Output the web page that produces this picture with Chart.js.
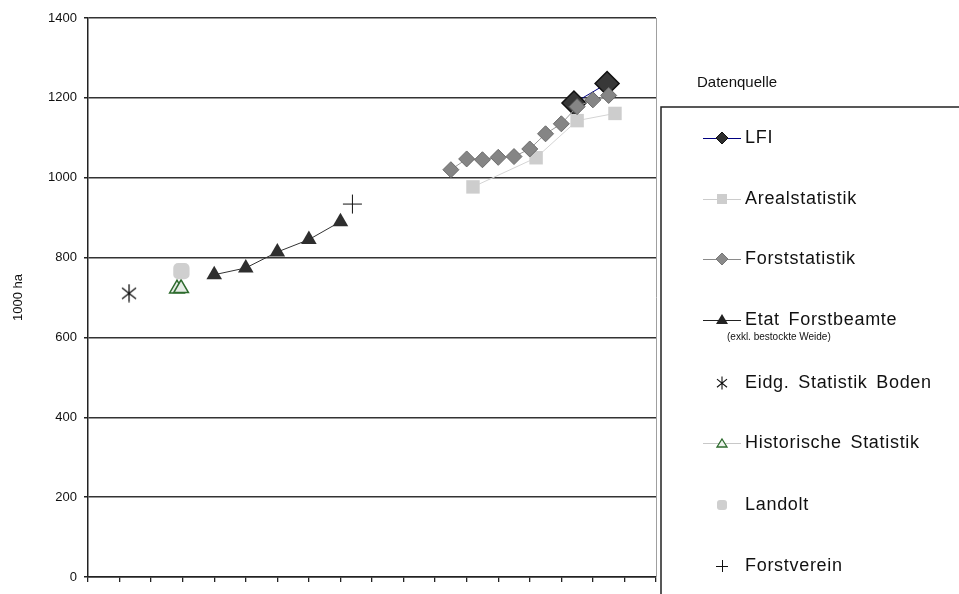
<!DOCTYPE html>
<html>
<head>
<meta charset="utf-8">
<script src="https://cdn.jsdelivr.net/npm/chart.js@4/dist/chart.umd.min.js"></script>
<style>
html,body{margin:0;padding:0;background:#fff;}
#wrap{width:959px;height:594px;position:relative;}
</style>
</head>
<body>
<div id="wrap"><canvas id="c" width="959" height="594"></canvas></div>
<script>
// ---- Data (years, 1000 ha) ----
const lfiYears = [1984, 1994.5];
const lfiValues = [1187, 1236];
const arealYears = [1952, 1972, 1985, 1997];
const arealValues = [977, 1050, 1143, 1161];
const forstYears = [1945, 1950, 1955, 1960, 1965, 1970, 1975, 1980, 1985, 1990, 1995];
const forstValues = [1020, 1047, 1045, 1051, 1053, 1072, 1110, 1135, 1178, 1195, 1206];
const etatYears = [1870, 1880, 1890, 1900, 1910];
const etatValues = [757, 774, 814, 845, 890];
const eidgYears = [1843];
const eidgValues = [711];
const histYears = [1858.2, 1859.5];
const histValues = [722, 723];
const landoltYears = [1859.6];
const landoltValues = [766];
const vereinYears = [1913.8];
const vereinValues = [934];
const yTicks = [0, 200, 400, 600, 800, 1000, 1200, 1400];
const legendLabels = ['LFI', 'Arealstatistik', 'Forststatistik', 'Etat Forstbeamte', 'Eidg. Statistik Boden', 'Historische Statistik', 'Landolt', 'Forstverein'];
const legendNote = '(exkl. bestockte Weide)';
const legendTitle = 'Datenquelle';
const yTitle = '1000 ha';

const pts = (xs, ys) => xs.map((x, i) => ({x: x, y: ys[i]}));

function asterisk(w, h, lw) {
  const c = document.createElement('canvas');
  c.width = w; c.height = h;
  const g = c.getContext('2d');
  g.strokeStyle = '#111'; g.lineWidth = lw;
  g.beginPath();
  g.moveTo(w / 2, 0.5); g.lineTo(w / 2, h - 0.5);
  g.moveTo(1, h * 0.22); g.lineTo(w - 1, h * 0.8);
  g.moveTo(w - 1, h * 0.22); g.lineTo(1, h * 0.8);
  g.stroke();
  return c;
}
const starBig = asterisk(16, 19, 1.3);
const starSmall = asterisk(12, 14, 1.1);

const FONT = '"Liberation Sans", Arial, Helvetica, sans-serif';

const legendPlugin = {
  id: 'customLegend',
  afterDraw(chart) {
    const ctx = chart.ctx;
    const ca = chart.chartArea;
    ctx.save();
    // right border of plot area
    ctx.strokeStyle = '#a0a0a0';
    ctx.lineWidth = 1;
    ctx.beginPath();
    ctx.moveTo(ca.right + 0.5, ca.top);
    ctx.lineTo(ca.right + 0.5, ca.bottom);
    ctx.stroke();

    // legend title
    ctx.fillStyle = '#111';
    ctx.font = '15px ' + FONT;
    ctx.textBaseline = 'middle';
    ctx.textAlign = 'left';
    ctx.fillText(legendTitle, 697, 83);
    // legend box
    ctx.strokeStyle = '#222';
    ctx.lineWidth = 1.5;
    ctx.strokeRect(661, 107, 400, 600);

    const rows = [138, 199, 259, 320, 383, 443, 505, 566];
    const mx = 722;
    const lineCols = ['#000080', '#cccccc', '#8a8a8a', '#222', null, '#c8c8c8', null, null];
    rows.forEach((y, i) => {
      if (lineCols[i]) {
        ctx.strokeStyle = lineCols[i];
        ctx.lineWidth = 1;
        ctx.beginPath();
        ctx.moveTo(703, y + 0.5);
        ctx.lineTo(741, y + 0.5);
        ctx.stroke();
      }
      ctx.beginPath();
      if (i === 0) {
        ctx.fillStyle = '#2e2e2e'; ctx.strokeStyle = '#111'; ctx.lineWidth = 1;
        ctx.moveTo(mx, y - 6); ctx.lineTo(mx + 6, y); ctx.lineTo(mx, y + 6); ctx.lineTo(mx - 6, y); ctx.closePath();
        ctx.fill(); ctx.stroke();
      } else if (i === 1) {
        ctx.fillStyle = '#cdcdcd';
        ctx.fillRect(mx - 5, y - 5, 10, 10);
      } else if (i === 2) {
        ctx.fillStyle = '#8a8a8a'; ctx.strokeStyle = '#777'; ctx.lineWidth = 1;
        ctx.moveTo(mx, y - 6); ctx.lineTo(mx + 6, y); ctx.lineTo(mx, y + 6); ctx.lineTo(mx - 6, y); ctx.closePath();
        ctx.fill(); ctx.stroke();
      } else if (i === 3) {
        ctx.fillStyle = '#222';
        ctx.moveTo(mx, y - 6); ctx.lineTo(mx + 6, y + 4); ctx.lineTo(mx - 6, y + 4); ctx.closePath();
        ctx.fill();
      } else if (i === 4) {
        ctx.drawImage(starSmall, mx - 6, y - 7);
      } else if (i === 5) {
        ctx.fillStyle = '#eef3ee'; ctx.strokeStyle = '#2e6b2e'; ctx.lineWidth = 1.3;
        ctx.moveTo(mx, y - 4); ctx.lineTo(mx + 5, y + 4); ctx.lineTo(mx - 5, y + 4); ctx.closePath();
        ctx.fill(); ctx.stroke();
      } else if (i === 6) {
        ctx.fillStyle = '#cfcfcf';
        ctx.beginPath();
        ctx.roundRect(mx - 5, y - 5, 10, 10, 3);
        ctx.fill();
      } else if (i === 7) {
        ctx.strokeStyle = '#111'; ctx.lineWidth = 1;
        ctx.moveTo(mx - 6, y + 0.5); ctx.lineTo(mx + 6, y + 0.5);
        ctx.moveTo(mx + 0.5, y - 6); ctx.lineTo(mx + 0.5, y + 6);
        ctx.stroke();
      }
      ctx.fillStyle = '#111';
      ctx.font = '18px ' + FONT;
      ctx.textBaseline = 'middle';
      try { ctx.letterSpacing = '0.7px'; ctx.wordSpacing = '3px'; } catch (e) {}
      ctx.fillText(legendLabels[i], 745, y);
      try { ctx.letterSpacing = '0px'; ctx.wordSpacing = '0px'; } catch (e) {}
      if (i === 3) {
        ctx.font = '10px ' + FONT;
        ctx.fillText(legendNote, 727, 337);
      }
    });
    ctx.restore();
  }
};

new Chart(document.getElementById('c'), {
  type: 'scatter',
  data: {
    datasets: [
      {label: legendLabels[2], data: pts(forstYears, forstValues), showLine: true,
       borderColor: '#9a9a9a', borderWidth: 1, pointStyle: 'rectRot', pointRadius: 8,
       backgroundColor: '#858585', pointBorderColor: '#6a6a6a', pointBorderWidth: 1},
      {label: legendLabels[1], data: pts(arealYears, arealValues), showLine: true,
       borderColor: '#d4d4d4', borderWidth: 1, pointStyle: 'rect', pointRadius: 9.5,
       backgroundColor: '#cdcdcd', pointBorderColor: '#cdcdcd', pointBorderWidth: 0},
      {label: legendLabels[0], data: pts(lfiYears, lfiValues), showLine: true,
       borderColor: '#000080', borderWidth: 1, pointStyle: 'rectRot', pointRadius: 12,
       backgroundColor: '#383838', pointBorderColor: '#111', pointBorderWidth: 1.5},
      {label: legendLabels[3], data: pts(etatYears, etatValues), showLine: true,
       borderColor: '#333', borderWidth: 1, pointStyle: 'triangle', pointRadius: 9,
       backgroundColor: '#2e2e2e', pointBorderColor: '#2e2e2e', pointBorderWidth: 0},
      {label: legendLabels[4], data: pts(eidgYears, eidgValues), showLine: false,
       pointStyle: starBig, pointRadius: 9},
      {label: legendLabels[6], data: pts(landoltYears, landoltValues), showLine: false,
       pointStyle: 'rectRounded', pointRadius: 9.5, backgroundColor: '#cfcfcf', pointBorderColor: '#cfcfcf', pointBorderWidth: 0},
      {label: legendLabels[5], data: pts(histYears, histValues), showLine: true,
       borderColor: '#c8c8c8', borderWidth: 1, pointStyle: 'triangle', pointRadius: 8.5,
       backgroundColor: '#e6ece6', pointBorderColor: '#2e6b2e', pointBorderWidth: 1.5},
      {label: legendLabels[7], data: pts(vereinYears, vereinValues), showLine: false,
       pointStyle: 'cross', pointRadius: 9.5, pointBorderColor: '#111', pointBorderWidth: 1}
    ]
  },
  options: {
    responsive: false,
    animation: false,
    devicePixelRatio: 1,
    layout: {padding: {left: 0, top: 18, right: 303, bottom: 0}},
    plugins: {legend: {display: false}, tooltip: {enabled: false}},
    scales: {
      x: {
        type: 'linear', min: 1830, max: 2010,
        ticks: {stepSize: 10, callback: () => '', font: {size: 1}, padding: 0},
        grid: {drawOnChartArea: false, tickLength: 5, tickColor: '#222', lineWidth: 1.3},
        border: {color: '#222', width: 1.5},
        afterFit: s => { s.height = 17; }
      },
      y: {
        min: 0, max: 1400,
        afterBuildTicks: s => { s.ticks = yTicks.map(v => ({value: v})); },
        ticks: {color: '#111', font: {family: FONT, size: 13}, padding: 7, callback: v => String(v)},
        grid: {color: '#333', lineWidth: 1.5, tickLength: 4, tickColor: '#222'},
        border: {color: '#222', width: 1.5},
        title: {display: true, text: yTitle, color: '#111', font: {family: FONT, size: 13}, padding: {top: 11, bottom: 0}},
        afterFit: s => { s.width = 88; }
      }
    }
  },
  plugins: [legendPlugin]
});
</script>
</body>
</html>
